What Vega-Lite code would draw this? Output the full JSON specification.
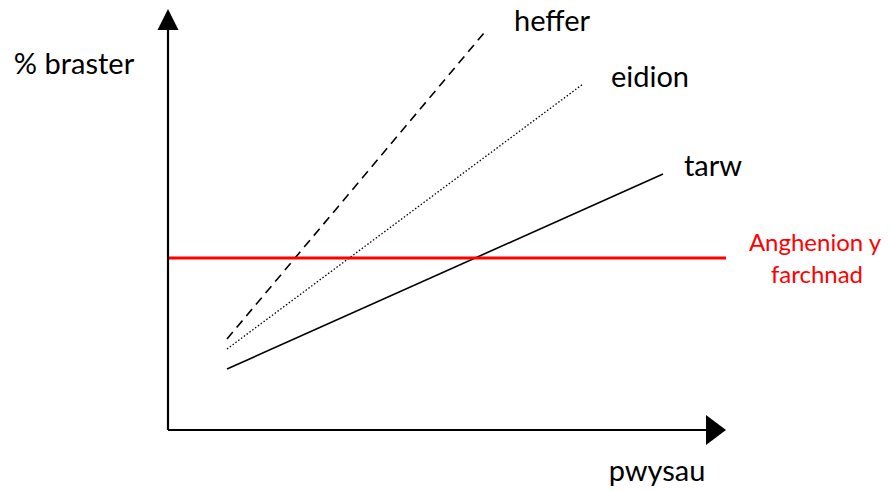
{
  "$schema": "https://vega.github.io/schema/vega-lite/v6.json",
  "width": 890,
  "height": 491,
  "padding": 0,
  "autosize": {"type": "none"},
  "background": "white",
  "config": {"view": {"stroke": null}},
  "datasets": {
    "lines": [
      {"series": "heffer", "x": 59, "y": 91},
      {"series": "heffer", "x": 316, "y": 397},
      {"series": "eidion", "x": 59, "y": 81},
      {"series": "eidion", "x": 415, "y": 346},
      {"series": "tarw", "x": 59, "y": 61},
      {"series": "tarw", "x": 495, "y": 256},
      {"series": "market", "x": 0, "y": 172},
      {"series": "market", "x": 558, "y": 172},
      {"series": "yaxis", "x": 0, "y": 0},
      {"series": "yaxis", "x": 0, "y": 402},
      {"series": "xaxis", "x": 0, "y": 0},
      {"series": "xaxis", "x": 540, "y": 0}
    ],
    "arrows": [
      {"axis": "y", "x": 0, "y": 410.5},
      {"axis": "x", "x": 548, "y": 0}
    ],
    "labels": [
      {"text": "% braster", "x": -94, "y": 365, "group": "black"},
      {"text": "heffer", "x": 384, "y": 408, "group": "black"},
      {"text": "eidion", "x": 482, "y": 352, "group": "black"},
      {"text": "tarw", "x": 545, "y": 263, "group": "black"},
      {"text": "pwysau", "x": 489, "y": -42, "group": "black"},
      {"text": "Anghenion y", "x": 647, "y": 186, "group": "red"},
      {"text": "farchnad", "x": 649, "y": 154, "group": "red"}
    ]
  },
  "encoding": {
    "x": {"field": "x", "type": "quantitative", "scale": {"domain": [-168, 722], "nice": false, "zero": false}, "axis": null},
    "y": {"field": "y", "type": "quantitative", "scale": {"domain": [-61, 430], "nice": false, "zero": false}, "axis": null}
  },
  "layer": [
    {
      "data": {"name": "lines"},
      "transform": [{"filter": "datum.series === 'heffer'"}],
      "mark": {"type": "line", "color": "black", "strokeWidth": 1.6, "strokeDash": [9, 6]},
      "encoding": {"order": {"field": "x", "type": "quantitative"}}
    },
    {
      "data": {"name": "lines"},
      "transform": [{"filter": "datum.series === 'eidion'"}],
      "mark": {"type": "line", "color": "black", "strokeWidth": 1.3, "strokeDash": [1.5, 2]},
      "encoding": {"order": {"field": "x", "type": "quantitative"}}
    },
    {
      "data": {"name": "lines"},
      "transform": [{"filter": "datum.series === 'tarw'"}],
      "mark": {"type": "line", "color": "black", "strokeWidth": 1.6},
      "encoding": {"order": {"field": "x", "type": "quantitative"}}
    },
    {
      "data": {"name": "lines"},
      "transform": [{"filter": "datum.series === 'market'"}],
      "mark": {"type": "line", "color": "#ff0000", "strokeWidth": 3.2},
      "encoding": {"order": {"field": "x", "type": "quantitative"}}
    },
    {
      "data": {"name": "lines"},
      "transform": [{"filter": "datum.series === 'yaxis'"}],
      "mark": {"type": "line", "color": "black", "strokeWidth": 2.2},
      "encoding": {"order": {"field": "y", "type": "quantitative"}}
    },
    {
      "data": {"name": "lines"},
      "transform": [{"filter": "datum.series === 'xaxis'"}],
      "mark": {"type": "line", "color": "black", "strokeWidth": 2.2},
      "encoding": {"order": {"field": "x", "type": "quantitative"}}
    },
    {
      "data": {"name": "arrows"},
      "transform": [{"filter": "datum.axis === 'y'"}],
      "mark": {"type": "point", "shape": "M0,-1L1,1L-1,1Z", "size": 441, "filled": true, "color": "black", "opacity": 1}
    },
    {
      "data": {"name": "arrows"},
      "transform": [{"filter": "datum.axis === 'x'"}],
      "mark": {"type": "point", "shape": "M1,0L-1,-1.5L-1,1.5Z", "size": 400, "filled": true, "color": "black", "opacity": 1}
    },
    {
      "data": {"name": "labels"},
      "transform": [{"filter": "datum.group === 'black'"}],
      "mark": {"type": "text", "font": "Lato", "fontSize": 29, "align": "center", "baseline": "middle", "color": "black"},
      "encoding": {"text": {"field": "text"}}
    },
    {
      "data": {"name": "labels"},
      "transform": [{"filter": "datum.group === 'red'"}],
      "mark": {"type": "text", "font": "Lato", "fontSize": 24, "align": "center", "baseline": "middle", "color": "#ff0000"},
      "encoding": {"text": {"field": "text"}}
    }
  ]
}
